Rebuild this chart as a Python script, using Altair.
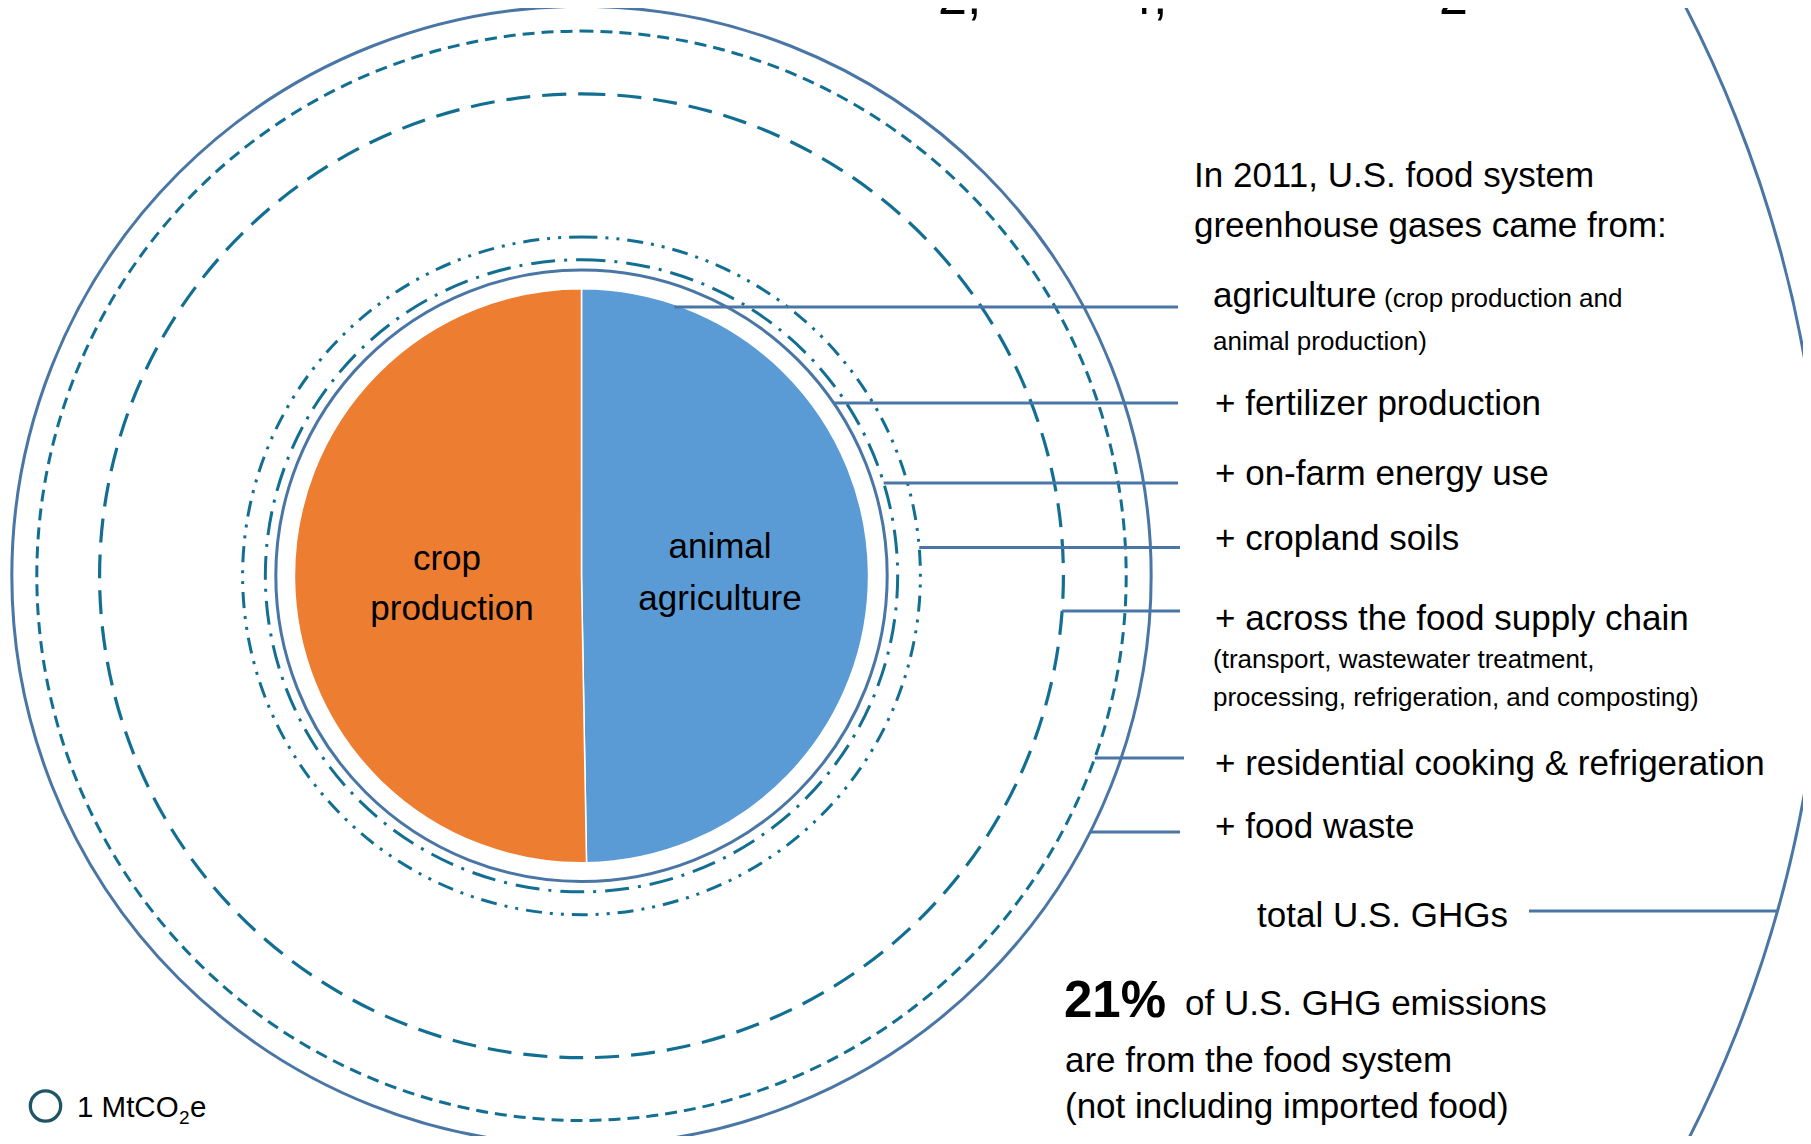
import math
import altair as alt
import pandas as pd

# ---------------- data (MtCO2e, 2011) ----------------
parts = ["animal agriculture", "crop production"]
part_values = [178, 180]
stages = ["agriculture", "fertilizer production", "on-farm energy use", "cropland soils",
          "across the food supply chain", "residential cooking & refrigeration", "food waste"]
stage_increments = [358, 48, 28, 65, 510, 280, 120]
total_us = 6702
legend_value = 1

cumulative = []
acc = 0
for v in stage_increments:
    acc += v
    cumulative.append(acc)

# ---------------- layout / styles ----------------
W, H = 1795, 1128
OX, OY = 8, 8
CX, CY = 581.5, 575.8          # centre of the concentric circles (page px)
R_TOTAL = 1242                  # pixel radius of the total U.S. circle
FONT = "Liberation Sans"
BLUE, ORANGE = "#5B9BD5", "#ED7D31"
SOLID = "#4A76A6"
TEAL = "#136F92"
LEG = "#1E5667"

rscale = alt.Scale(type="sqrt", domain=[0, total_us], range=[0, R_TOTAL], zero=True)
one = pd.DataFrame({"k": [0]})


def px(x):
    return x - OX


def py(y):
    return y - OY


def r_px(v):
    return R_TOTAL * math.sqrt(v / total_us)


def ring(value, color, width, dash=None, cx=CX, cy=CY):
    kw = dict(fillOpacity=0, stroke=color, strokeWidth=width, theta=0, theta2=2 * math.pi)
    if dash:
        kw["strokeDash"] = dash
    return alt.Chart(pd.DataFrame({"v": [value]})).mark_arc(**kw).encode(
        x=alt.value(px(cx)), y=alt.value(py(cy)),
        radius=alt.Radius("v:Q", scale=rscale))


def hline(x1, x2, y):
    return alt.Chart(one).mark_rule(color=SOLID, strokeWidth=3).encode(
        x=alt.value(px(x1)), x2=alt.value(px(x2)), y=alt.value(py(y)))


def text(s, x, y, size, weight="normal", align="left", font=FONT):
    return alt.Chart(one).mark_text(
        text=s, align=align, baseline="alphabetic", fontSize=size, fontWeight=weight,
        font=font, color="black").encode(x=alt.value(px(x)), y=alt.value(py(y)))


layers = []

# pie of agriculture
pie_df = pd.DataFrame({"part": parts, "value": part_values, "order": [0, 1]})
layers.append(
    alt.Chart(pie_df).transform_joinaggregate(agri="sum(value)").mark_arc(
        stroke="white", strokeWidth=1.5).encode(
        theta=alt.Theta("value:Q", stack=True),
        order=alt.Order("order:Q"),
        color=alt.Color("part:N", scale=alt.Scale(domain=parts, range=[BLUE, ORANGE]), legend=None),
        radius=alt.Radius("agri:Q", scale=rscale),
        x=alt.value(px(CX)), y=alt.value(py(CY)))
)

ring_styles = [
    None,
    dict(color=SOLID, width=3),
    dict(color=TEAL, width=3, dash=[24, 9, 3, 9]),
    dict(color=TEAL, width=3, dash=[16, 8, 3, 8, 3, 8]),
    dict(color=TEAL, width=3.2, dash=[24, 12]),
    dict(color=TEAL, width=3, dash=[12, 7]),
    dict(color=SOLID, width=3),
]
for i in range(1, len(stages)):
    st = ring_styles[i]
    layers.append(ring(cumulative[i], st["color"], st["width"], st.get("dash")))

layers.append(ring(total_us, SOLID, 3))

# leader lines
leader_y = [307, 403, 483, 547.5, 611, 758, 832]
leader_end = [1178, 1178, 1178, 1180, 1180, 1184, 1180]
for i in range(len(stages)):
    r = r_px(cumulative[i])
    dy = leader_y[i] - CY
    xs = CX + math.sqrt(max(r * r - dy * dy, 0))
    if i == 0:
        xs -= 8
    layers.append(hline(xs, leader_end[i], leader_y[i]))
# total line
ty = 911
layers.append(hline(1529, CX + math.sqrt(R_TOTAL ** 2 - (ty - CY) ** 2), ty))

# pie labels
layers += [
    text("crop", 447, 570, 35, align="center"),
    text("production", 452, 620, 35, align="center"),
    text("animal", 720, 558, 35, align="center"),
    text("agriculture", 720, 610, 35, align="center"),
]

# right-hand annotations
layers += [
    text("In 2011, U.S. food system", 1194, 187, 35),
    text("greenhouse gases came from:", 1194, 237, 35),
    text("agriculture", 1213, 307, 35),
    text("(crop production and", 1384, 307, 26),
    text("animal production)", 1213, 350, 26),
    text("+ fertilizer production", 1215, 415, 35),
    text("+ on-farm energy use", 1215, 485, 35),
    text("+ cropland soils", 1215, 550, 35),
    text("+ across the food supply chain", 1215, 630, 35),
    text("(transport, wastewater treatment,", 1213, 668, 26),
    text("processing, refrigeration, and composting)", 1213, 706, 26),
    text("+ residential cooking & refrigeration", 1215, 775, 35),
    text("+ food waste", 1215, 838, 35),
    text("total U.S. GHGs", 1257, 927, 35),
    text("21%", 1064, 1017, 51, weight="bold"),
    text("of U.S. GHG emissions", 1185, 1015, 35),
    text("are from the food system", 1065, 1072, 35),
    text("(not including imported food)", 1065, 1118, 35),
]

# cut-off numbers at the top
layers += [
    text("2,", 938, 14, 52),
    text("4,", 1124, 14, 52),
    text("2", 1439, 14, 52),
]

# legend
layers.append(ring(legend_value, LEG, 3.3, cx=45.5, cy=1106))
layers += [
    text("1 MtCO", 77, 1117, 29.5),
    text("2", 179, 1124, 19),
    text("e", 190, 1117, 29.5),
]

chart = alt.layer(*layers).properties(
    width=W, height=H, padding=0,
    autosize=alt.AutoSizeParams(type="none"),
).configure_view(strokeWidth=0)

chart.save("out.html", embed_options={"renderer": "svg", "actions": False})
